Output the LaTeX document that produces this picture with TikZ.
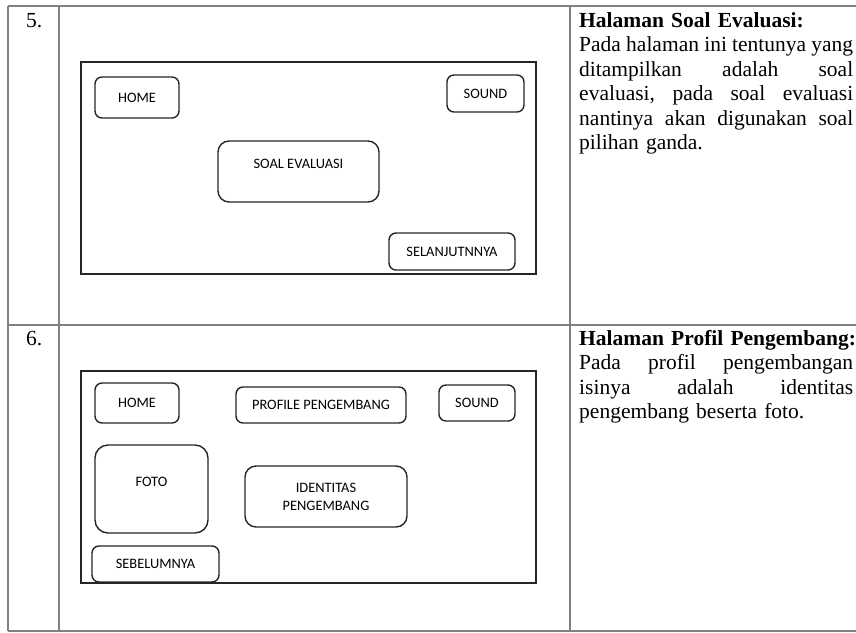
\documentclass[tikz,border=0pt]{standalone}
\usepackage{fontspec}
\setmainfont{Liberation Serif}
\newfontfamily\uifont{Carlito}
\newcommand\justline[1]{\makebox[274pt][l]{#1}}
\begin{document}
\begin{tikzpicture}[x=1pt,y=-1pt,
  gridline/.style={draw=black!50, line width=1.1pt},
  frame/.style={draw=black!85, line width=1.6pt},
  btn/.style={draw=black!85, line width=1.4pt, rounded corners=7pt, inner sep=0pt,
    font=\uifont\fontsize{14.4}{18}\selectfont, text=black, align=center},
  bigbtn/.style={btn, rounded corners=11pt},
  lbl/.style={inner sep=0pt, font=\uifont\fontsize{14.4}{18}\selectfont, text=black},
  body/.style={inner sep=0pt, anchor=base west, text width=280pt, align=left,
    font=\fontsize{21.5}{24.5}\selectfont},
  num/.style={inner sep=0pt, anchor=base west, font=\fontsize{21.5}{24.5}\selectfont}
]
\useasboundingbox (0,0) rectangle (856,632);
% table grid
\coordinate (tl) at (8,6);
\coordinate (tr) at (856,6);
\coordinate (ml) at (8,325);
\coordinate (mr) at (856,325);
\coordinate (bl) at (8,631);
\coordinate (br) at (856,631);
\draw[gridline] (tl) -- (tr);
\draw[gridline] (ml) -- (mr);
\draw[gridline] (bl) -- (br);
\draw[gridline] (tl) -- (bl);
\draw[gridline] (59,6) -- (59,631);
\draw[gridline] (570,6) -- (570,631);

% row 5
\node[num] (n5) at (26,27) {5.};
\draw[frame] (81,62) rectangle (536,274);
\node[btn, minimum width=84pt, minimum height=41pt] (home5) at (137,97.5) {HOME};
\node[btn, minimum width=77pt, minimum height=37pt] (sound5) at (485.5,93.5) {SOUND};
\node[bigbtn, minimum width=161pt, minimum height=61pt] (soal) at (298.5,171.5) {};
\node[lbl] (soalt) at (298.5,164) {SOAL EVALUASI};
\node[btn, minimum width=126pt, minimum height=37pt] (next5) at (452,251.5) {SELANJUTNNYA};
\node[body] (txt5) at (579,27) {\mbox{\textbf{Halaman Soal Evaluasi:}}\\
\justline{Pada\hfill halaman\hfill ini\hfill tentunya\hfill yang}\\
\justline{ditampilkan\hfill adalah\hfill soal}\\
\justline{evaluasi,\hfill pada\hfill soal\hfill evaluasi}\\
\justline{nantinya\hfill akan\hfill digunakan\hfill soal}\\
\mbox{pilihan ganda.}};

% row 6
\node[num] (n6) at (26,345) {6.};
\draw[frame] (81,371) rectangle (536,583);
\node[btn, minimum width=84pt, minimum height=40pt] (home6) at (137,403) {HOME};
\node[btn, minimum width=170pt, minimum height=36pt] (prof) at (321,405) {PROFILE PENGEMBANG};
\node[btn, minimum width=76pt, minimum height=36pt] (sound6) at (477,403) {SOUND};
\node[bigbtn, rounded corners=13pt, minimum width=113pt, minimum height=88pt] (foto) at (151.5,489) {};
\node[lbl] (fotot) at (151.5,482) {FOTO};
\node[bigbtn, minimum width=162pt, minimum height=61pt] (ident) at (326,496.5) {IDENTITAS\\PENGEMBANG};
\node[btn, minimum width=127pt, minimum height=36pt] (prev6) at (155.5,564) {SEBELUMNYA};
\node[body] (txt6) at (579,345) {\mbox{\textbf{Halaman Profil Pengembang:}}\\
\justline{Pada\hfill profil\hfill pengembangan}\\
\justline{isinya\hfill adalah\hfill identitas}\\
\mbox{pengembang beserta foto.}};
\end{tikzpicture}
\end{document}
